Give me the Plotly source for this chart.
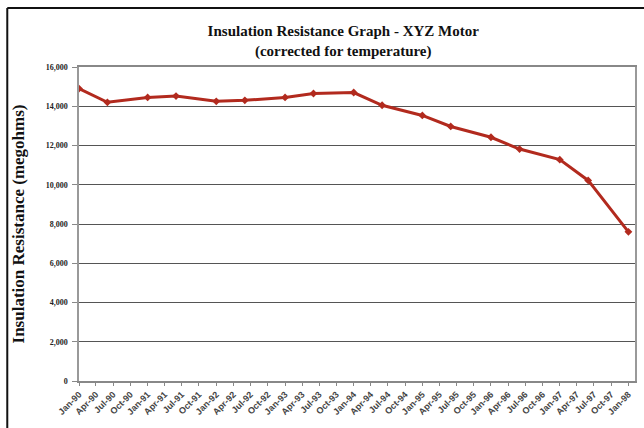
import plotly.graph_objects as go

# semi-annual insulation tests, Jan / Jun of each year
test_dates = [
    "1990-01-01", "1990-06-01", "1991-01-01", "1991-06-01",
    "1992-01-01", "1992-06-01", "1993-01-01", "1993-06-01",
    "1994-01-01", "1994-06-01", "1995-01-01", "1995-06-01",
    "1996-01-01", "1996-06-01", "1997-01-01", "1997-06-01",
    "1998-01-01",
]
resistance_megohms = [
    14900, 14200, 14450, 14520,
    14250, 14300, 14450, 14650,
    14700, 14050, 13530, 12970,
    12420, 11820, 11280, 10220,
    7600,
]
y_ticks = [0, 2000, 4000, 6000, 8000, 10000, 12000, 14000, 16000]

line_red = "#B22A1E"
serif = "Liberation Serif, Times New Roman, serif"

fig = go.Figure()
fig.add_trace(go.Scatter(
    x=test_dates,
    y=resistance_megohms,
    mode="lines+markers",
    line=dict(color=line_red, width=3),
    marker=dict(symbol="diamond", size=6, color=line_red),
    showlegend=False,
))

fig.update_layout(
    width=644,
    height=428,
    margin=dict(l=79, r=9, t=67, b=47),
    paper_bgcolor="white",
    plot_bgcolor="white",
    title=dict(
        text="<b>Insulation Resistance Graph - XYZ Motor<br>(corrected for temperature)</b>",
        x=0.533,
        xanchor="center",
        xref="container",
        y=0.915,
        yanchor="top",
        yref="container",
        font=dict(family=serif, size=15, color="#111"),
    ),
    xaxis=dict(
        type="date",
        range=["1990-01-01", "1998-02-05"],
        tick0="1990-01-01",
        dtick="M3",
        tickformat="%b-%y",
        tickangle=-45,
        ticks="outside",
        ticklen=3,
        tickcolor="#888",
        tickfont=dict(family="Arial, Liberation Sans, sans-serif", size=9,
                      color="#444", weight="bold"),
        showgrid=False,
        showline=True,
        linecolor="#888",
        linewidth=1.5,
        mirror=True,
        automargin=False,
    ),
    yaxis=dict(
        range=[0, 16000],
        tickvals=y_ticks,
        tickformat=",d",
        ticks="outside",
        ticklen=5,
        tickcolor="#888",
        ticklabelstandoff=3,
        tickfont=dict(family=serif, size=8, color="#222", weight="bold"),
        showgrid=True,
        gridcolor="#555",
        gridwidth=1.3,
        zeroline=False,
        showline=True,
        linecolor="#999",
        linewidth=1.5,
        mirror=True,
        automargin=False,
        title=dict(
            text="<b>Insulation Resistance (megohms)</b>",
            font=dict(family=serif, size=17, color="#111"),
            standoff=17,
        ),
    ),
    shapes=[
        # outer frame of the scanned figure (top and left edges visible)
        dict(type="line", xref="paper", yref="paper",
             x0=-0.129, x1=1.05, y0=1.188, y1=1.188,
             line=dict(color="#111", width=2)),
        dict(type="line", xref="paper", yref="paper",
             x0=-0.129, x1=-0.129, y0=1.188, y1=-0.2,
             line=dict(color="#111", width=2)),
    ],
)

# drop the default 8px body margin so the figure fills the window exactly
fig.write_html(
    "out.html",
    config={"displayModeBar": False},
    post_script="document.body.style.margin='0';",
)
